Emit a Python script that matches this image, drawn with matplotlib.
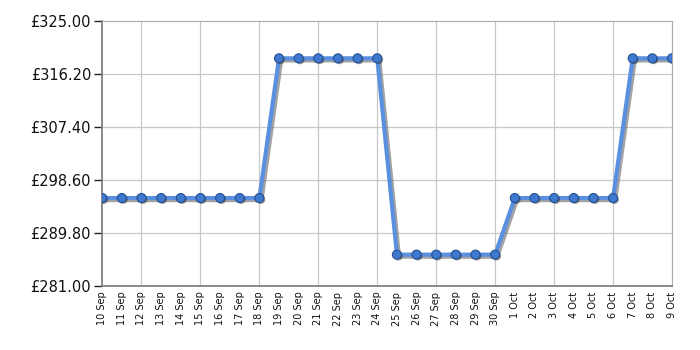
import matplotlib
matplotlib.use('Agg')
import matplotlib.pyplot as plt
import matplotlib.patheffects as pe
import numpy as np

# dates on the x axis
days = ['10 Sep', '11 Sep', '12 Sep', '13 Sep', '14 Sep', '15 Sep', '16 Sep', '17 Sep', '18 Sep',
        '19 Sep', '20 Sep', '21 Sep', '22 Sep', '23 Sep', '24 Sep',
        '25 Sep', '26 Sep', '27 Sep', '28 Sep', '29 Sep', '30 Sep',
        '1 Oct', '2 Oct', '3 Oct', '4 Oct', '5 Oct', '6 Oct',
        '7 Oct', '8 Oct', '9 Oct']

# price for each day
prices = [295.6] * 9 + [318.8] * 6 + [286.2] * 6 + [295.6] * 6 + [318.8] * 3

y_ticks = [281.00, 289.80, 298.60, 307.40, 316.20, 325.00]

fig = plt.figure(figsize=(7, 3.5), dpi=100)
ax = fig.add_axes([0.146, 0.183, 0.814, 0.757])

x = np.arange(len(days))
# line with a soft grey shadow
ax.plot(x, prices, color='#5b8fe0', lw=3, zorder=3,
        path_effects=[pe.SimpleLineShadow(offset=(1.5, -1.5), shadow_color='#666666', alpha=0.6),
                      pe.Normal()])
# markers on top
ax.plot(x, prices, ls='none', marker='o', ms=6.5,
        mfc='#3f78cf', mec='#24508f', mew=0.8, zorder=4,
        path_effects=[pe.SimplePatchShadow(offset=(1, -1), shadow_rgbFace='#333333', alpha=0.5),
                      pe.Normal()])

ax.set_xlim(0, len(days) - 1)
ax.set_ylim(281, 325)
ax.set_yticks(y_ticks)
ax.set_yticklabels(['£%.2f' % v for v in y_ticks], fontsize=10.5, color='#111111')
ax.set_xticks(x)
ax.set_xticklabels(days, rotation=90, fontsize=7, color='#111111')

# grid and tick marks every third day
ax.set_xticks(x[2::3], minor=True)
ax.grid(False)
for xv in x[2::3]:
    ax.axvline(xv, color='#c8c8c8', lw=0.9, zorder=1)
for yv in y_ticks[1:-1]:
    ax.axhline(yv, color='#c8c8c8', lw=0.9, zorder=1)

ax.tick_params(axis='x', which='major', length=0, pad=4)
ax.tick_params(axis='x', which='minor', length=5, width=1, color='#222222')
ax.tick_params(axis='y', length=6, width=1, color='#222222', pad=2)

for s in ['top', 'right']:
    ax.spines[s].set_color('#aaaaaa')
for s in ['left', 'bottom']:
    ax.spines[s].set_color('#777777')
    ax.spines[s].set_linewidth(1.2)

fig.savefig('out.png', dpi=100)
